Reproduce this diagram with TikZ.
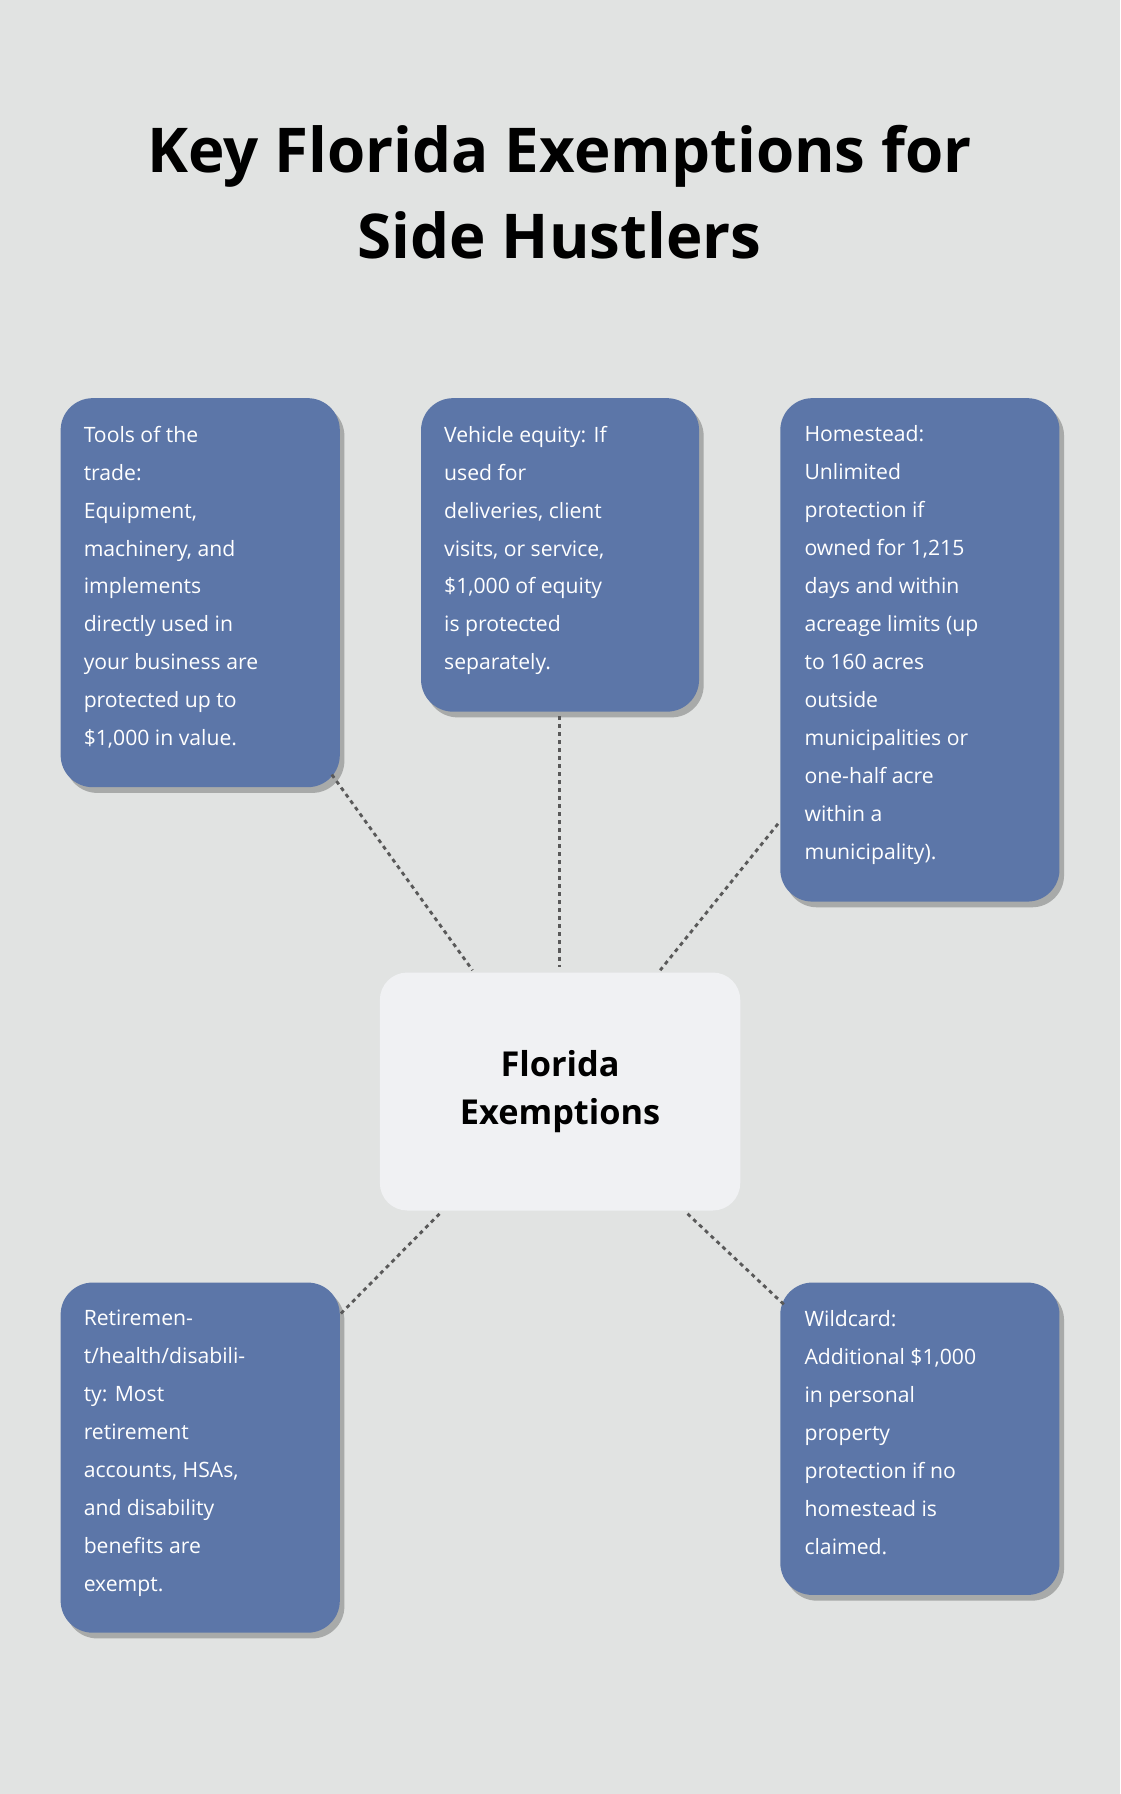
\documentclass[tikz,border=0pt]{standalone}
\usepackage{fontspec}
\setmainfont{Open Sans}
\usetikzlibrary{shadows}
\definecolor{bg}{HTML}{E1E3E2}
\definecolor{boxc}{HTML}{5C76A8}
\definecolor{ctr}{HTML}{F0F1F3}
\begin{document}
\begin{tikzpicture}[x=1pt,y=-1pt,
  box/.style={fill=boxc,rounded corners=28pt,draw=none,drop shadow={shadow xshift=4pt,shadow yshift=-5pt,opacity=0.25,fill=black}},
  txt/.style={anchor=north west,text=white,align=left,inner sep=0pt,font=\fontsize{18.5}{33.2}\selectfont},
  con/.style={draw=black!65,line width=2.5pt,dash pattern=on 3.5pt off 3.5pt}]
\fill[bg] (0,0) rectangle (979,1568);
\useasboundingbox (0,0) rectangle (979,1568);
\node[align=center,font=\fontsize{54}{75}\selectfont\bfseries] (title) at (489,168) {Key Florida Exemptions for\\Side Hustlers};
% boxes
\path[box] (53,348) rectangle (297,688);
\path[box] (368,348) rectangle (611,622);
\path[box] (682,348) rectangle (926,788);
\path[box] (53,1121) rectangle (297,1427);
\path[box] (682,1121) rectangle (926,1394);
\path[fill=ctr,rounded corners=24pt] (332,850) rectangle (647,1058);
\node (ctr) at (489.5,954) [align=center,font=\fontsize{30}{42}\selectfont\bfseries] {Florida\\Exemptions};
\node[txt] (t1) at (73,372) {Tools of the\\trade:\\Equipment,\\machinery, and\\implements\\directly used in\\your business are\\protected up to\\\$1,000 in value.};
\node[txt] (t2) at (388,372) {Vehicle equity: If\\used for\\deliveries, client\\visits, or service,\\\$1,000 of equity\\is protected\\separately.};
\node[txt] (t3) at (703,372) {Homestead:\\Unlimited\\protection if\\owned for 1,215\\days and within\\acreage limits (up\\to 160 acres\\outside\\municipalities or\\one-half acre\\within a\\municipality).};
\node[txt] (t4) at (73,1145) {Retiremen-\\t/health/disabili-\\ty: Most\\retirement\\accounts, HSAs,\\and disability\\benefits are\\exempt.};
\node[txt] (t5) at (703,1145) {Wildcard:\\Additional \$1,000\\in personal\\property\\protection if no\\homestead is\\claimed.};
\coordinate (a1) at (290,677); \coordinate (b1) at (413,848);
\coordinate (a2) at (489,626); \coordinate (b2) at (489,845);
\coordinate (a3) at (680,720); \coordinate (b3) at (577,848);
\coordinate (a4) at (298,1148); \coordinate (b4) at (385,1060);
\coordinate (a5) at (685,1140); \coordinate (b5) at (600,1060);
\foreach \i in {1,...,5} \draw[con] (a\i) -- (b\i);
\end{tikzpicture}
\end{document}
